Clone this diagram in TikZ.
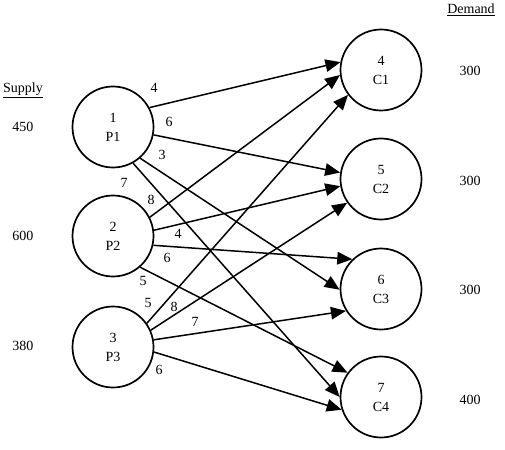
\documentclass[tikz,border=0pt]{standalone}
\usepackage{fontspec}
\setmainfont{Liberation Serif}
\usepackage{tikz}
\usetikzlibrary{arrows.meta, positioning}

\begin{document}
\begin{tikzpicture}[
    x=1pt, y=-1pt,
    station/.style={circle, draw, line width=1.7pt, minimum size=81pt, inner sep=0pt,
                    align=center, font=\fontsize{14}{19}\selectfont},
    flow/.style={line width=1.5pt, -{Triangle[length=15pt, width=12.5pt]}},
    cost/.style={font=\fontsize{14}{16}\selectfont, inner sep=0pt},
    amount/.style={font=\fontsize{14}{16}\selectfont, inner sep=0pt}
]
    \useasboundingbox (0,0) rectangle (505,449);

    % Plants (left)
    \node[station] at (113,127) (P1) {1\\P1};
    \node[station] at (113,236) (P2) {2\\P2};
    \node[station] at (113,347) (P3) {3\\P3};

    % Customers (right)
    \node[station] at (381,70) (C1) {4\\C1};
    \node[station] at (381,179) (C2) {5\\C2};
    \node[station] at (381,289) (C3) {6\\C3};
    \node[station] at (381,397) (C4) {7\\C4};

    % Supply and demand
    \node[amount] at (23,90) (supply) {\underline{Supply}};
    \node[amount] at (23,127) (s1) {450};
    \node[amount] at (23,236) (s2) {600};
    \node[amount] at (23,346) (s3) {380};
    \node[amount] at (471,10) (demand) {\underline{Demand}};
    \node[amount] at (470,71) (d1) {300};
    \node[amount] at (470,181) (d2) {300};
    \node[amount] at (470,290) (d3) {300};
    \node[amount] at (470,400) (d4) {400};

    % Shipping routes
    \foreach \from/\a/\to/\b in {P1/28/C1/169, P1/349/C2/171, P1/311/C3/181, P1/299/C4/180,
                                 P2/27/C1/187, P2/8/C2/190, P2/347/C3/134, P2/311/C4/144,
                                 P3/35/C1/217, P3/24/C2/215, P3/10/C3/212, P3/353/C4/198} {
        \draw[flow] (\from.\a) -- (\to.\b);
    }

    % Unit costs
    \node[cost] at (154,88) (k11) {4};
    \node[cost] at (169,122) (k12) {6};
    \node[cost] at (162,155) (k13) {3};
    \node[cost] at (124,183) (k14) {7};
    \node[cost] at (151,200) (k21) {8};
    \node[cost] at (178,234) (k22) {4};
    \node[cost] at (167,258) (k23) {6};
    \node[cost] at (143,281) (k24) {5};
    \node[cost] at (148,303) (k31) {5};
    \node[cost] at (174,307) (k32) {8};
    \node[cost] at (195,322) (k33) {7};
    \node[cost] at (159,370) (k34) {6};
\end{tikzpicture}
\end{document}
